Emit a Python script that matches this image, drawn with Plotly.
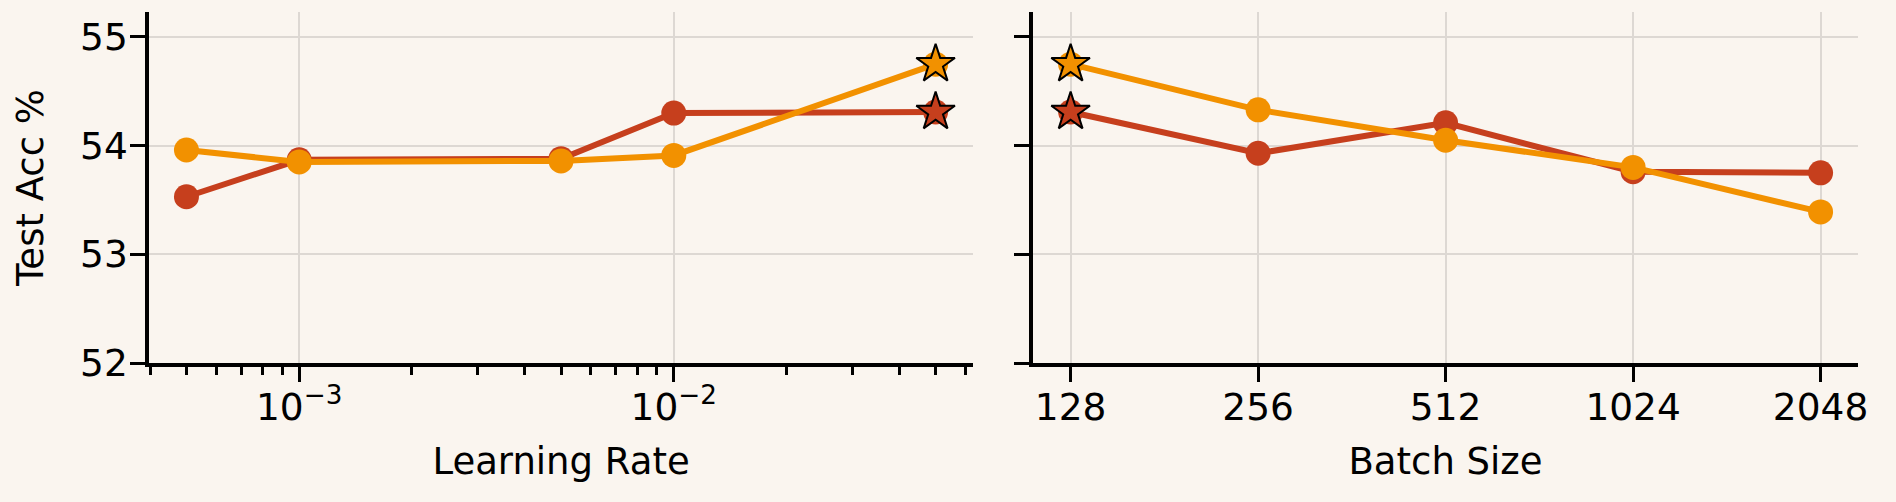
import plotly.graph_objects as go

# ---- data ----
learning_rates = [5e-4, 1e-3, 5e-3, 1e-2, 5e-2]
lr_red = [53.53, 53.87, 53.88, 54.30, 54.31]
lr_orange = [53.96, 53.85, 53.86, 53.91, 54.75]

batch_sizes = [128, 256, 512, 1024, 2048]
bs_red = [54.31, 53.93, 54.21, 53.76, 53.75]
bs_orange = [54.75, 54.33, 54.05, 53.80, 53.39]

y_ticks = [52, 53, 54, 55]
lr_major = [1e-3, 1e-2]
lr_major_text = ["10<sup>\u22123</sup>", "10<sup>\u22122</sup>"]
lr_minor = [4e-4, 5e-4, 6e-4, 7e-4, 8e-4, 9e-4,
            2e-3, 3e-3, 4e-3, 5e-3, 6e-3, 7e-3, 8e-3, 9e-3,
            2e-2, 3e-2, 4e-2, 5e-2, 6e-2]

RED = "#C63F1D"
ORANGE = "#F29100"
BG = "#FAF5EF"
GRID = "#DDD8D3"
FONT = "DejaVu Sans"

fig = go.Figure()


def add_series(x, y, color, xa, ya):
    fig.add_trace(go.Scatter(
        x=x, y=y, mode="lines+markers", xaxis=xa, yaxis=ya,
        line=dict(color=color, width=6),
        marker=dict(color=color, size=25, symbol="circle"),
        showlegend=False, hoverinfo="skip"))


def add_star(x, y, color, xa, ya):
    fig.add_trace(go.Scatter(
        x=[x], y=[y], mode="markers", xaxis=xa, yaxis=ya,
        marker=dict(color=color, size=29, symbol="star",
                    line=dict(color="black", width=2)),
        showlegend=False, hoverinfo="skip"))


# left panel
add_series(learning_rates, lr_red, RED, "x", "y")
add_series(learning_rates, lr_orange, ORANGE, "x", "y")
add_star(learning_rates[4], lr_red[4], RED, "x", "y")
add_star(learning_rates[4], lr_orange[4], ORANGE, "x", "y")

# right panel
add_series(batch_sizes, bs_red, RED, "x2", "y2")
add_series(batch_sizes, bs_orange, ORANGE, "x2", "y2")
add_star(batch_sizes[0], bs_red[0], RED, "x2", "y2")
add_star(batch_sizes[0], bs_orange[0], ORANGE, "x2", "y2")

axis_common = dict(
    showline=True, linecolor="black", linewidth=3.5,
    ticks="outside", tickcolor="black", tickwidth=3, ticklen=15,
    showgrid=True, gridcolor=GRID, gridwidth=1.8,
    zeroline=False, mirror=False, automargin=False,
    tickfont=dict(family=FONT, size=37.5, color="black"),
)

yrange = [52, 55.23]

fig.update_layout(
    width=1896, height=502,
    paper_bgcolor=BG, plot_bgcolor=BG,
    margin=dict(l=149, r=38, t=12, b=139),
    font=dict(family=FONT, color="black"),
    xaxis=dict(
        axis_common, type="log", domain=[0, 0.4822],
        range=[-3.401, -1.201],
        tickmode="array", tickvals=lr_major, ticktext=lr_major_text,
        ticklabelstandoff=-7,
        minor=dict(tickmode="array", tickvals=lr_minor, ticks="outside",
                   ticklen=8, tickwidth=2.5, tickcolor="black", showgrid=False),
        title=dict(text="Learning Rate", font=dict(family=FONT, size=37), standoff=21),
        anchor="y",
    ),
    yaxis=dict(
        axis_common, domain=[0, 1], range=yrange,
        tickmode="array", tickvals=y_ticks,
        ticklabelstandoff=-5,
        title=dict(text="Test Acc %", font=dict(family=FONT, size=37), standoff=26),
        anchor="x",
    ),
    xaxis2=dict(
        axis_common, type="log", domain=[0.5173, 1],
        range=[2.0469, 3.3714],
        tickmode="array", tickvals=batch_sizes,
        ticktext=[str(b) for b in batch_sizes],
        ticklabelstandoff=-7,
        title=dict(text="Batch Size", font=dict(family=FONT, size=37), standoff=21),
        anchor="y2",
    ),
    yaxis2=dict(
        axis_common, domain=[0, 1], range=yrange,
        tickmode="array", tickvals=y_ticks, showticklabels=False,
        anchor="x2",
    ),
)

fig.write_html(
    "out.html",
    config={"displayModeBar": False},
    post_script="document.body.style.margin='0';document.body.style.padding='0';",
)
